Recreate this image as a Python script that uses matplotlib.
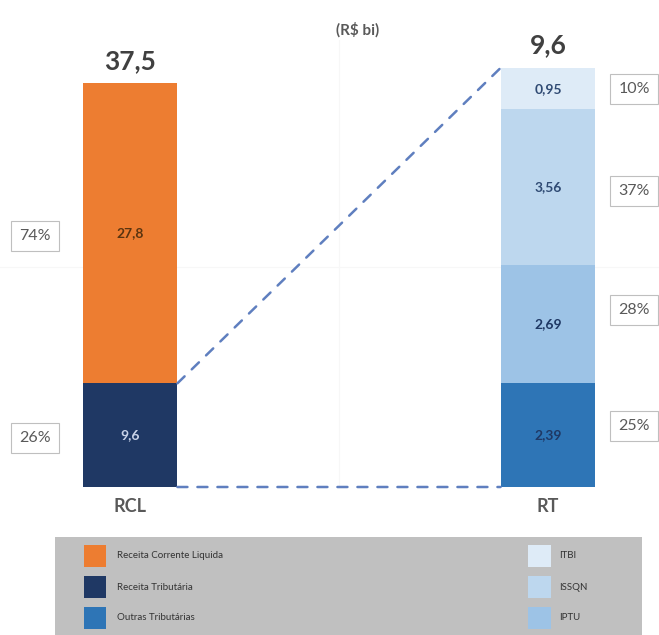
import matplotlib
matplotlib.use("Agg")
import matplotlib.pyplot as plt
from matplotlib.patches import ConnectionPatch, Rectangle

plt.rcParams["font.family"] = ["Lato", "DejaVu Sans"]

# valores em R$ bilhões
CATEGORIES = ["RCL", "RT"]
RCL_PARTS = ["Receita Tributária", "Receita Corrente Liquida"]
RCL_VALUES = [9.6, 27.8]
RCL_TOTAL = 37.5
RT_PARTS = ["Outras Tributárias", "IPTU", "ISSQN", "ITBI"]
RT_VALUES = [2.39, 2.69, 3.56, 0.95]
RT_TOTAL = 9.6

RCL_COLORS = ["#1F3864", "#ED7D31"]
RT_COLORS = ["#2E75B6", "#9DC3E6", "#BDD7EE", "#DEEBF7"]
RCL_TEXT = ["#C9D3E8", "#5A3410"]
RT_TEXT = ["#1F3864", "#1F3864", "#2F4A73", "#2F4A73"]
GRAY_TXT = "#595959"
DASH = "#5F7FBF"

W, H = 659, 635
BAR_W = 0.227

fig = plt.figure(figsize=(W / 100, H / 100), dpi=100)
ax1 = fig.add_axes([0, (H - 487) / H, 1, (487 - 40) / H])
ax2 = ax1.twinx()

ax1.set_xlim(-0.311, 1.2656)
ax1.set_ylim(0, 41.39)
ax2.set_ylim(0, 10.23)

for a in (ax1, ax2):
    for s in a.spines.values():
        s.set_visible(False)
    a.set_yticks([])
ax1.set_xticks([0, 1], CATEGORIES)
ax1.tick_params(axis="x", length=0, pad=8, labelsize=13, labelcolor=GRAY_TXT)
for lbl in ax1.get_xticklabels():
    lbl.set_fontweight("bold")

# grade bem clara
ax1.axvline(0.5, color="#F7F7F7", lw=0.8, zorder=0)
ax1.axhline(20.4, color="#F7F7F7", lw=0.8, zorder=0)

# barra RCL empilhada
bottom = 0
rcl_centers = []
for val, col, tc in zip(RCL_VALUES, RCL_COLORS, RCL_TEXT):
    ax1.bar(0, val, BAR_W, bottom=bottom, color=col, zorder=2)
    c = bottom + val / 2
    rcl_centers.append(c)
    ax1.text(0, c, f"{val:.1f}".replace(".", ","), ha="center", va="center",
             fontsize=10, fontweight="bold", color=tc, zorder=3)
    bottom += val
ax1.annotate(f"{RCL_TOTAL:.1f}".replace(".", ","), (0, bottom), xytext=(0, 7),
             textcoords="offset points", ha="center", va="bottom",
             fontsize=19, fontweight="bold", color="#404040")

# barra RT empilhada
bottom = 0
rt_centers = []
for val, col, tc in zip(RT_VALUES, RT_COLORS, RT_TEXT):
    ax2.bar(1, val, BAR_W, bottom=bottom, color=col, zorder=2)
    c = bottom + val / 2
    rt_centers.append(c)
    ax2.text(1, c, f"{val:.2f}".replace(".", ","), ha="center", va="center",
             fontsize=10, fontweight="bold", color=tc, zorder=3)
    bottom += val
rt_top = bottom
ax2.annotate(f"{RT_TOTAL:.1f}".replace(".", ","), (1, rt_top), xytext=(0, 8),
             textcoords="offset points", ha="center", va="bottom",
             fontsize=19, fontweight="bold", color="#404040")

# caixas de participação percentual
box = dict(boxstyle="square,pad=0.5", fc="white", ec="#BFBFBF", lw=0.8)
for val, c in zip(RCL_VALUES, rcl_centers):
    ax1.annotate(f"{round(val / RCL_TOTAL * 100):.0f}%", (-0.227, c),
                 xytext=(0, -2), textcoords="offset points", ha="center",
                 va="center", fontsize=11.5, color=GRAY_TXT, bbox=box)
rt_sum = sum(RT_VALUES)
rt_offsets = [6, 10, -3, 0]
for val, c, off in zip(RT_VALUES, rt_centers, rt_offsets):
    ax2.annotate(f"{round(val / rt_sum * 100):.0f}%", (1.206, c),
                 xytext=(0, off), textcoords="offset points", ha="center",
                 va="center", fontsize=11.5, color=GRAY_TXT, bbox=box)

# ligações tracejadas entre RT dentro da RCL e a barra RT
for ya, yb in [(RCL_VALUES[0], rt_top), (0, 0)]:
    con = ConnectionPatch(xyA=(BAR_W / 2, ya), coordsA=ax1.transData,
                          xyB=(1 - BAR_W / 2, yb), coordsB=ax2.transData,
                          color=DASH, lw=1.8, ls=(0, (4, 4)), zorder=1)
    fig.add_artist(con)

fig.text(358 / W, 1 - 30 / H, "(R$ bi)", ha="center", va="center",
         fontsize=11, fontweight="bold", color=GRAY_TXT)

# legenda
lax = fig.add_axes([55 / W, 0, (642 - 55) / W, (H - 537) / H])
lax.set_xlim(55, 642)
lax.set_ylim(H, 537)
lax.axis("off")
lax.add_patch(Rectangle((55, 537), 587, H - 537, fc="#C0C0C0", ec="none"))
rows = [556, 587, 618]
left_items = list(zip([RCL_PARTS[1], RCL_PARTS[0], RT_PARTS[0]],
                      [RCL_COLORS[1], RCL_COLORS[0], RT_COLORS[0]]))
right_items = list(zip(RT_PARTS[:0:-1], RT_COLORS[:0:-1]))
for (name, col), y in zip(left_items, rows):
    lax.add_patch(Rectangle((84, y - 11), 22, 22, fc=col, ec="none"))
    lax.text(117, y, name, va="center", fontsize=7, color="#333333")
for (name, col), y in zip(right_items, rows):
    lax.add_patch(Rectangle((528, y - 11), 23, 22, fc=col, ec="none"))
    lax.text(559, y, name, va="center", fontsize=7, color="#333333")

fig.savefig("out.png", dpi=100)
